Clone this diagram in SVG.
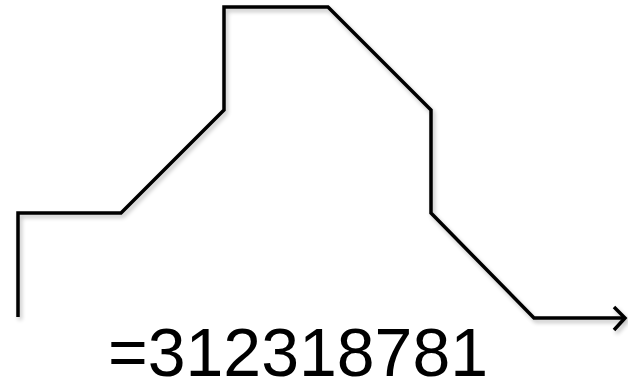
<svg xmlns="http://www.w3.org/2000/svg" width="628" height="382" viewBox="0 0 628 382">
<defs>
<filter id="sh" x="-10%" y="-10%" width="120%" height="120%">
<feGaussianBlur in="SourceAlpha" stdDeviation="2"/>
<feOffset dx="2" dy="3"/>
<feComponentTransfer><feFuncA type="linear" slope="0.25"/></feComponentTransfer>
<feMerge><feMergeNode/><feMergeNode in="SourceGraphic"/></feMerge>
</filter>
<style>
.ln{fill:none;stroke:#000;stroke-width:3.5;stroke-linejoin:miter}
.lbl{font-family:"Liberation Sans",Arial,sans-serif;font-size:68px;fill:#000}
</style>
</defs>
<g id="connectors" filter="url(#sh)">
<polyline class="ln" points="18,317 18,213 121,213 224,110 224,7 328,7 431,110 431,213 534,318 624,318"/>
<polyline class="ln" points="614,307 625,318 614,330"/>
</g>
<g id="label">
<text class="lbl" x="108" y="376">=312318781</text>
</g>
</svg>
